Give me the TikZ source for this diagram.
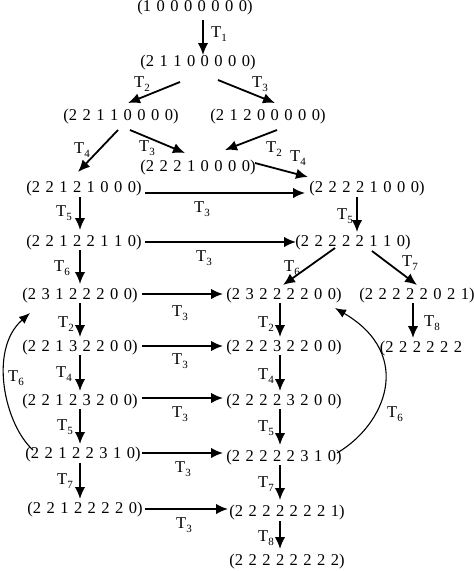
\documentclass[tikz,border=0pt]{standalone}
\usepackage{fontspec}
\setmainfont{Liberation Serif}
\usetikzlibrary{arrows.meta}
\newcommand\Tl[1]{T\raisebox{-0.28em}{\fontsize{11}{11}\selectfont #1}}
\newcommand\stfont{\fontsize{16.5}{18}\selectfont\spaceskip 0.33em\relax}
\begin{document}
\begin{tikzpicture}[x=1pt,y=-1pt,
  st/.style={inner sep=0pt,font={\stfont}},
  lb/.style={inner sep=0pt,font={\fontsize{16.5}{18}\selectfont}},
  arr/.style={line width=1.8pt,-{Latex[length=12pt,width=10.5pt]}},
  carr/.style={line width=1.1pt,-{Latex[length=11pt,width=9pt]}}]
\path[use as bounding box] (0,0) rectangle (474,571);
% states
\node[st] (n0) at (195,8) {(1 0 0 0 0 0 0 0)};
\node[st] (n1) at (198,63) {(2 1 1 0 0 0 0 0)};
\node[st] (n2a) at (121,117) {(2 2 1 1 0 0 0 0)};
\node[st] (n2b) at (268,117) {(2 1 2 0 0 0 0 0)};
\node[st] (n3) at (198,168) {(2 2 2 1 0 0 0 0)};
\node[st] (L1) at (84,189) {(2 2 1 2 1 0 0 0)};
\node[st] (R1) at (367,189) {(2 2 2 2 1 0 0 0)};
\node[st] (L2) at (84,243) {(2 2 1 2 2 1 1 0)};
\node[st] (R2) at (353,243) {(2 2 2 2 2 1 1 0)};
\node[st] (L3) at (80,296) {(2 3 1 2 2 2 0 0)};
\node[st] (R3) at (284,296) {(2 3 2 2 2 2 0 0)};
\node[st] (R3b) at (417,296) {(2 2 2 2 2 0 2 1)};
\node[st] (L4) at (80,348) {(2 2 1 3 2 2 0 0)};
\node[st] (R4) at (284,348) {(2 2 2 3 2 2 0 0)};
\node[st] (R4b) at (421,349) {(2 2 2 2 2 2};
\node[st] (L5) at (80,402) {(2 2 1 2 3 2 0 0)};
\node[st] (R5) at (284,402) {(2 2 2 2 3 2 0 0)};
\node[st] (L6) at (83,455) {(2 2 1 2 2 3 1 0)};
\node[st] (R6) at (284,458) {(2 2 2 2 2 3 1 0)};
\node[st] (L7) at (85,510) {(2 2 1 2 2 2 2 0)};
\node[st] (R7) at (287,513) {(2 2 2 2 2 2 2 1)};
\node[st] (R8) at (287,562) {(2 2 2 2 2 2 2 2)};
% arrows
\draw[arr] ([shift={(8,12)}]n0.center) -- ([shift={(5,-8)}]n1.center);
\draw[arr] ([shift={(-18,19)}]n1.center) -- ([shift={(7,-14)}]n2a.center);
\draw[arr] ([shift={(20,17)}]n1.center) -- ([shift={(7,-14)}]n2b.center);
\draw[arr] ([shift={(-3,13)}]n2a.center) -- ([shift={(-6,-17)}]L1.center);
\draw[arr] ([shift={(9,13)}]n2a.center) -- ([shift={(-13,-15)}]n3.center);
\draw[arr] ([shift={(9,13)}]n2b.center) -- ([shift={(27,-18)}]n3.center);
\draw[arr] ([shift={(57,-5)}]n3.center) -- ([shift={(-59,-12)}]R1.center);
\draw[arr] ([shift={(61,4)}]L1.center) -- ([shift={(-62,4)}]R1.center);
\draw[arr] ([shift={(-4,8)}]L1.center) -- ([shift={(-4,-13)}]L2.center);
\draw[arr] ([shift={(-10,8)}]R1.center) -- ([shift={(4,-11)}]R2.center);
\draw[arr] ([shift={(61,-1)}]L2.center) -- ([shift={(-57,-1)}]R2.center);
\draw[arr] ([shift={(-4,7)}]L2.center) -- ([shift={(0,-12)}]L3.center);
\draw[arr] ([shift={(-18,5)}]R2.center) -- ([shift={(-1,-11)}]R3.center);
\draw[arr] ([shift={(19,8)}]R2.center) -- ([shift={(0,-11)}]R3b.center);
\draw[arr] ([shift={(62,-2)}]L3.center) -- ([shift={(-61,-2)}]R3.center);
\draw[arr] ([shift={(0,7)}]L3.center) -- ([shift={(0,-11)}]L4.center);
\draw[arr] ([shift={(-4,7)}]R3.center) -- ([shift={(-4,-11)}]R4.center);
\draw[arr] ([shift={(-4,7)}]R3b.center) -- ([shift={(-8,-11)}]R4b.center);
\draw[arr] ([shift={(62,-2)}]L4.center) -- ([shift={(-61,-2)}]R4.center);
\draw[arr] ([shift={(0,7)}]L4.center) -- ([shift={(0,-11)}]L5.center);
\draw[arr] ([shift={(-4,7)}]R4.center) -- ([shift={(-4,-11)}]R5.center);
\draw[arr] ([shift={(62,-4)}]L5.center) -- ([shift={(-61,-4)}]R5.center);
\draw[arr] ([shift={(0,7)}]L5.center) -- ([shift={(-3,-11)}]L6.center);
\draw[arr] ([shift={(-4,7)}]R5.center) -- ([shift={(-4,-13)}]R6.center);
\draw[arr] ([shift={(59,-2)}]L6.center) -- ([shift={(-61,-5)}]R6.center);
\draw[arr] ([shift={(-3,8)}]L6.center) -- ([shift={(-5,-11)}]L7.center);
\draw[arr] ([shift={(-4,7)}]R6.center) -- ([shift={(-7,-13)}]R7.center);
\draw[arr] ([shift={(60,-1)}]L7.center) -- ([shift={(-59,-4)}]R7.center);
\draw[arr] ([shift={(-7,8)}]R7.center) -- ([shift={(-7,-13)}]R8.center);
% curved arrows
\draw[carr] ([shift={(-50,-5)}]L6.center) .. controls (5,425) and (-12,350) .. ([shift={(-50,17)}]L3.center);
\draw[carr] ([shift={(53,-5)}]R6.center) .. controls (385,425) and (415,355) .. ([shift={(51,12)}]R3.center);
% labels
\node[lb] (t1) at (219,34) {\Tl{1}};
\node[lb] (t2a) at (142,84) {\Tl{2}};
\node[lb] (t3a) at (260,84) {\Tl{3}};
\node[lb] (t4a) at (82,150) {\Tl{4}};
\node[lb] (t3b) at (147,148) {\Tl{3}};
\node[lb] (t2b) at (274,149) {\Tl{2}};
\node[lb] (t4b) at (298,158) {\Tl{4}};
\node[lb] (t3c) at (202,209) {\Tl{3}};
\node[lb] (t5a) at (64,213) {\Tl{5}};
\node[lb] (t5b) at (345,216) {\Tl{5}};
\node[lb] (t3d) at (204,258) {\Tl{3}};
\node[lb] (t6a) at (62,268) {\Tl{6}};
\node[lb] (t6b) at (292,268) {\Tl{6}};
\node[lb] (t7a) at (410,263) {\Tl{7}};
\node[lb] (t3e) at (180,313) {\Tl{3}};
\node[lb] (t2c) at (66,324) {\Tl{2}};
\node[lb] (t2d) at (266,324) {\Tl{2}};
\node[lb] (t8a) at (432,323) {\Tl{8}};
\node[lb] (t3f) at (180,361) {\Tl{3}};
\node[lb] (t4c) at (64,374) {\Tl{4}};
\node[lb] (t4d) at (266,376) {\Tl{4}};
\node[lb] (t6c) at (16,378) {\Tl{6}};
\node[lb] (t3g) at (180,414) {\Tl{3}};
\node[lb] (t6d) at (395,414) {\Tl{6}};
\node[lb] (t5c) at (65,427) {\Tl{5}};
\node[lb] (t5d) at (266,428) {\Tl{5}};
\node[lb] (t3h) at (183,469) {\Tl{3}};
\node[lb] (t7b) at (65,481) {\Tl{7}};
\node[lb] (t7c) at (266,484) {\Tl{7}};
\node[lb] (t3i) at (184,525) {\Tl{3}};
\node[lb] (t8b) at (266,538) {\Tl{8}};
\end{tikzpicture}
\end{document}
